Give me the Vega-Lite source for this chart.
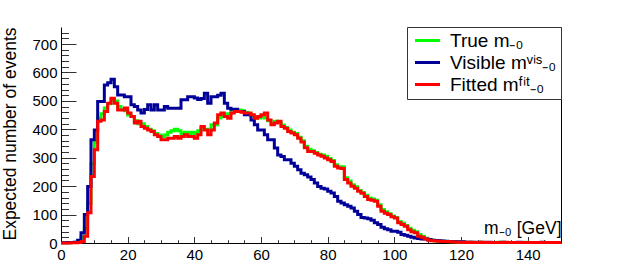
{
"$schema": "https://vega.github.io/schema/vega-lite/v6.json",
"width": 500, "height": 216,
"autosize": "none",
"padding": {"left": 61, "top": 27, "right": 62, "bottom": 28},
"background": "white",
"config": {"view": {"stroke": null}, "font": "Liberation Sans",
  "axis": {"labelFont": "Liberation Sans", "titleFont": "Liberation Sans", "labelColor": "black", "titleColor": "black", "titleFontWeight": "normal", "grid": false, "domainColor": "black", "tickColor": "#333"}},
"data": {"values": [
{"x":0,"t":1,"v":1,"f":0},{"x":1,"t":1,"v":1,"f":0},{"x":2,"t":1,"v":2,"f":0},{"x":3,"t":2,"v":2,"f":1},{"x":4,"t":3,"v":3,"f":1},
{"x":5,"t":8,"v":10,"f":2},{"x":6,"t":20,"v":36,"f":5},{"x":7,"t":50,"v":100,"f":24},{"x":8,"t":140,"v":199,"f":106},{"x":9,"t":280,"v":363,"f":234},
{"x":10,"t":355,"v":398,"f":328},{"x":11,"t":440,"v":498,"f":428},{"x":12,"t":455,"v":498,"f":433},{"x":13,"t":475,"v":556,"f":463},{"x":14,"t":490,"v":564,"f":492},
{"x":15,"t":505,"v":576,"f":509},{"x":16,"t":500,"v":550,"f":492},{"x":17,"t":480,"v":521,"f":468},{"x":18,"t":470,"v":521,"f":468},{"x":19,"t":465,"v":515,"f":475},
{"x":20,"t":450,"v":515,"f":457},{"x":21,"t":445,"v":486,"f":445},{"x":22,"t":430,"v":480,"f":422},{"x":23,"t":420,"v":468,"f":428},{"x":24,"t":420,"v":457,"f":410},
{"x":25,"t":410,"v":470,"f":404},{"x":26,"t":400,"v":486,"f":398},{"x":27,"t":395,"v":468,"f":392},{"x":28,"t":385,"v":486,"f":381},{"x":29,"t":380,"v":468,"f":375},
{"x":30,"t":375,"v":468,"f":363},{"x":31,"t":380,"v":480,"f":363},{"x":32,"t":390,"v":474,"f":369},{"x":33,"t":395,"v":474,"f":369},{"x":34,"t":400,"v":474,"f":375},
{"x":35,"t":395,"v":474,"f":369},{"x":36,"t":385,"v":504,"f":375},{"x":37,"t":390,"v":504,"f":381},{"x":38,"t":385,"v":515,"f":375},{"x":39,"t":390,"v":515,"f":375},
{"x":40,"t":385,"v":510,"f":369},{"x":41,"t":395,"v":505,"f":381},{"x":42,"t":405,"v":508,"f":410},{"x":43,"t":400,"v":527,"f":398},{"x":44,"t":395,"v":492,"f":381},
{"x":45,"t":416,"v":515,"f":398},{"x":46,"t":416,"v":515,"f":422},{"x":47,"t":440,"v":520,"f":451},{"x":48,"t":445,"v":527,"f":457},{"x":49,"t":450,"v":492,"f":445},
{"x":50,"t":455,"v":474,"f":439},{"x":51,"t":470,"v":471,"f":457},{"x":52,"t":470,"v":471,"f":463},{"x":53,"t":468,"v":463,"f":463},{"x":54,"t":465,"v":463,"f":460},
{"x":55,"t":460,"v":451,"f":457},{"x":56,"t":455,"v":451,"f":457},{"x":57,"t":448,"v":433,"f":451},{"x":58,"t":442,"v":416,"f":439},{"x":59,"t":440,"v":398,"f":445},
{"x":60,"t":448,"v":398,"f":451},{"x":61,"t":440,"v":381,"f":457},{"x":62,"t":430,"v":363,"f":433},{"x":63,"t":420,"v":363,"f":416},{"x":64,"t":428,"v":334,"f":422},
{"x":65,"t":425,"v":310,"f":428},{"x":66,"t":415,"v":304,"f":410},{"x":67,"t":406,"v":293,"f":404},{"x":68,"t":398,"v":293,"f":392},{"x":69,"t":390,"v":281,"f":387},
{"x":70,"t":385,"v":270,"f":381},{"x":71,"t":372,"v":258,"f":369},{"x":72,"t":360,"v":245,"f":355},{"x":73,"t":340,"v":240,"f":335},{"x":74,"t":330,"v":232,"f":322},
{"x":75,"t":325,"v":223,"f":322},{"x":76,"t":318,"v":211,"f":316},{"x":77,"t":312,"v":199,"f":310},{"x":78,"t":310,"v":193,"f":305},{"x":79,"t":305,"v":190,"f":299},
{"x":80,"t":297,"v":182,"f":293},{"x":81,"t":290,"v":176,"f":287},{"x":82,"t":275,"v":164,"f":270},{"x":83,"t":268,"v":147,"f":264},{"x":84,"t":268,"v":141,"f":262},
{"x":85,"t":230,"v":135,"f":223},{"x":86,"t":218,"v":129,"f":211},{"x":87,"t":205,"v":123,"f":200},{"x":88,"t":198,"v":112,"f":193},{"x":89,"t":185,"v":100,"f":182},
{"x":90,"t":178,"v":90,"f":175},{"x":91,"t":168,"v":88,"f":164},{"x":92,"t":158,"v":85,"f":153},{"x":93,"t":155,"v":80,"f":150},{"x":94,"t":150,"v":71,"f":147},
{"x":95,"t":135,"v":65,"f":129},{"x":96,"t":118,"v":55,"f":112},{"x":97,"t":110,"v":50,"f":105},{"x":98,"t":103,"v":47,"f":100},{"x":99,"t":95,"v":41,"f":92},
{"x":100,"t":90,"v":41,"f":88},{"x":101,"t":76,"v":38,"f":71},{"x":102,"t":70,"v":30,"f":65},{"x":103,"t":62,"v":27,"f":59},{"x":104,"t":52,"v":24,"f":47},
{"x":105,"t":45,"v":20,"f":40},{"x":106,"t":40,"v":18,"f":36},{"x":107,"t":30,"v":16,"f":24},{"x":108,"t":24,"v":14,"f":20},{"x":109,"t":17,"v":14,"f":14},
{"x":110,"t":12,"v":12,"f":10},{"x":111,"t":10,"v":10,"f":8},{"x":112,"t":8,"v":9,"f":7},{"x":113,"t":7,"v":8,"f":6},{"x":114,"t":6,"v":7,"f":5},
{"x":115,"t":5,"v":6,"f":5},{"x":116,"t":5,"v":5,"f":4},{"x":117,"t":4,"v":5,"f":4},{"x":118,"t":4,"v":4,"f":3},{"x":119,"t":3,"v":4,"f":3},
{"x":120,"t":3,"v":4,"f":3},{"x":121,"t":3,"v":3,"f":2},{"x":122,"t":2,"v":3,"f":3},{"x":123,"t":3,"v":3,"f":2},{"x":124,"t":2,"v":2,"f":2},
{"x":125,"t":2,"v":3,"f":2},{"x":126,"t":3,"v":2,"f":3},{"x":127,"t":2,"v":2,"f":2},{"x":128,"t":2,"v":3,"f":2},{"x":129,"t":2,"v":2,"f":2},
{"x":130,"t":2,"v":2,"f":2},{"x":131,"t":3,"v":2,"f":2},{"x":132,"t":2,"v":3,"f":2},{"x":133,"t":2,"v":2,"f":3},{"x":134,"t":2,"v":2,"f":2},
{"x":135,"t":2,"v":2,"f":2},{"x":136,"t":2,"v":2,"f":2},{"x":137,"t":2,"v":3,"f":2},{"x":138,"t":2,"v":2,"f":2},{"x":139,"t":3,"v":2,"f":2},
{"x":140,"t":2,"v":2,"f":2},{"x":141,"t":2,"v":2,"f":2},{"x":142,"t":2,"v":2,"f":2},{"x":143,"t":2,"v":2,"f":2},{"x":144,"t":2,"v":3,"f":2},
{"x":145,"t":2,"v":2,"f":2},{"x":146,"t":2,"v":2,"f":2},{"x":147,"t":2,"v":2,"f":2},{"x":148,"t":2,"v":2,"f":2},{"x":149,"t":2,"v":2,"f":2},
{"x":150,"t":2,"v":2,"f":2}
]},
"transform": [{"fold": ["t", "v", "f"], "as": ["s", "n"]}],
"layer": [
  {
    "mark": {"type": "point", "opacity": 0},
    "encoding": {
      "x": {"field": "x", "type": "quantitative", "scale": {"domain": [0, 150], "nice": false},
        "axis": {"orient": "bottom", "values": [0,20,40,60,80,100,120,140], "labels": false, "domain": false, "ticks": true, "tickSize": -6.5, "title": null}},
      "y": {"field": "n", "type": "quantitative", "scale": {"domain": [0, 760], "nice": false},
        "axis": {"orient": "left", "values": [0,100,200,300,400,500,600,700], "labels": false, "domain": false, "ticks": true, "tickSize": -15, "title": null}}
    }
  },
  {
    "mark": {"type": "point", "opacity": 0},
    "encoding": {
      "x": {"field": "x", "type": "quantitative", "scale": {"domain": [0, 150], "nice": false},
        "axis": {"orient": "bottom", "values": [5,10,15,25,30,35,45,50,55,65,70,75,85,90,95,105,110,115,125,130,135,145], "labels": false, "domain": false, "ticks": true, "tickSize": -3.3, "title": null}},
      "y": {"field": "n", "type": "quantitative", "scale": {"domain": [0, 760], "nice": false},
        "axis": {"orient": "left", "values": [20,40,60,80,120,140,160,180,220,240,260,280,320,340,360,380,420,440,460,480,520,540,560,580,620,640,660,680,720,740], "labels": false, "domain": false, "ticks": true, "tickSize": -7.5, "title": null}}
    }
  },
  {
    "mark": {"type": "point", "opacity": 0},
    "encoding": {
      "x": {"field": "x", "type": "quantitative", "scale": {"domain": [0, 150], "nice": false}, "axis": null},
      "y": {"field": "n", "type": "quantitative", "scale": {"domain": [0, 760], "nice": false},
        "axis": {"orient": "right", "labels": false, "ticks": false, "domain": true, "title": null}}
    }
  },
  {
    "mark": {"type": "line", "interpolate": "step-after", "strokeWidth": 3},
    "encoding": {
      "x": {"field": "x", "type": "quantitative", "scale": {"domain": [0, 150], "nice": false},
        "axis": {"orient": "bottom", "values": [0,20,40,60,80,100,120,140], "ticks": false, "domain": true, "labelFontSize": 15, "labelPadding": 4, "labelFlush": false,
          "title": "m₋₀ [GeV]", "titleFontSize": 17.5, "titleX": 500, "titleY": -10, "titleAlign": "right", "titleBaseline": "alphabetic"}},
      "y": {"field": "n", "type": "quantitative", "scale": {"domain": [0, 760], "nice": false},
        "axis": {"orient": "left", "values": [0,100,200,300,400,500,600,700], "ticks": false, "domain": true, "labelFontSize": 15, "labelPadding": 4,
          "title": "Expected number of events", "titleFontSize": 17.5, "titleX": -42, "titleY": 0, "titleAngle": -90, "titleAlign": "right", "titleBaseline": "bottom"}},
      "color": {"field": "s", "type": "nominal",
        "scale": {"domain": ["t", "v", "f"], "range": ["#00ff00", "#000099", "#ff0000"]},
        "legend": {"orient": "top-right", "offset": 0, "title": null,
          "labelExpr": "datum.value == 't' ? 'True m₋₀' : datum.value == 'v' ? 'Visible mᵛⁱˢ₋₀' : 'Fitted mᶠⁱᵗ₋₀'",
          "symbolType": "M-2,0H2", "symbolSize": 156, "symbolStrokeWidth": 3, "symbolOffset": 7,
          "labelFontSize": 19, "labelFont": "Liberation Sans", "labelColor": "black", "labelOffset": 13, "labelLimit": 0,
          "fillColor": "white", "strokeColor": "#333", "padding": 4, "rowPadding": 2}}
    }
  }
],
"resolve": {"axis": {"x": "independent", "y": "independent"}}
}
